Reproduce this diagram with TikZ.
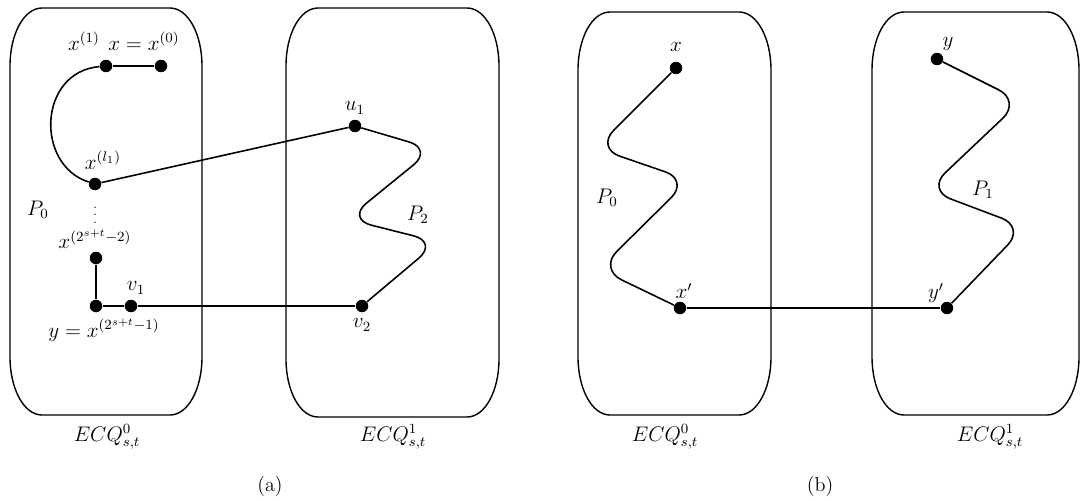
\documentclass[tikz,border=0pt]{standalone}
\usetikzlibrary{positioning}
\tikzset{
  vtx/.style={circle, fill=black, inner sep=0pt, minimum size=0.25cm},
  lbl/.style={inner sep=1pt, font=\fontsize{11.5}{13}\selectfont},
  edge/.style={line width=0.9pt},
  wave/.style={line width=0.9pt, rounded corners=0.5cm},
  cubeline/.style={line width=0.8pt},
}
% rounded cube box: left, right, top, bottom (pixel units)
\newcommand{\cubebox}[4]{%
  \draw[cubeline] (#1,#3+58) .. controls (#1,#3+26) and (#1+14,#3) .. (#1+32,#3)
    -- (#2-32,#3) .. controls (#2-14,#3) and (#2,#3+26) .. (#2,#3+58)
    -- (#2,#4-58) .. controls (#2,#4-26) and (#2-14,#4) .. (#2-32,#4)
    -- (#1+32,#4) .. controls (#1+14,#4) and (#1,#4-26) .. (#1,#4-58) -- cycle;}

\begin{document}
\begin{tikzpicture}[x=0.02cm, y=-0.02cm]
  \useasboundingbox (0,0) rectangle (1081,500);

  % (a)
  \cubebox{10}{202}{8}{415}
  \cubebox{286}{499}{8}{417}

  \node[vtx] (x0) at (161,66) {};
  \node[vtx] (x1) at (106,66) {};
  \node[vtx] (xl) at (95,184) {};
  \node[vtx] (xm) at (96,258) {};
  \node[vtx] (ya) at (96,306) {};
  \node[vtx] (v1) at (131,306) {};
  \node[vtx] (u1) at (355,126) {};
  \node[vtx] (v2) at (362,306) {};

  \node[lbl] (lx1) at (84,41) {$x^{(1)}$};
  \node[lbl] (lx0) at (144,41) {$x=x^{(0)}$};
  \node[lbl] (lxl) at (103,160) {$x^{(l_1)}$};
  \node[lbl] (lpa) at (38,210) {$P_0$};
  \node[lbl, font=\scriptsize] (ldots) at (95,210) {$\vdots$};
  \node[lbl] (lxm) at (95,239) {$x^{(2^{s+t}-2)}$};
  \node[lbl] (lv1) at (136,288) {$v_1$};
  \node[lbl] (ly) at (104,330) {$y=x^{(2^{s+t}-1)}$};
  \node[lbl] (lu1) at (355,108) {$u_1$};
  \node[lbl] (lv2) at (362,325) {$v_2$};
  \node[lbl] (lp2) at (418,215) {$P_2$};

  \draw[edge] (x1) -- (x0);
  \draw[edge] (x1) .. controls (38,72) and (35,165) .. (xl);
  \draw[edge] (xl) -- (u1);
  \draw[wave] (u1) -- (433,149) -- (347,219) -- (438,242) -- (v2);
  \draw[edge] (xm) -- (ya) -- (v1) -- (v2);

  \node[lbl] (ecq0a) at (107,437) {$ECQ^{0}_{s,t}$};
  \node[lbl] (ecq1a) at (393,437) {$ECQ^{1}_{s,t}$};
  \node[lbl] (capa) at (270,486) {(a)};

  % (b)
  \cubebox{578}{771}{12}{415}
  \cubebox{872}{1079}{12}{415}

  \node[vtx] (xb) at (676,68) {};
  \node[vtx] (xp) at (680,308) {};
  \node[vtx] (yb) at (937,59) {};
  \node[vtx] (yp) at (947,308) {};

  \node[lbl] (lxb) at (676,47) {$x$};
  \node[lbl] (lxp) at (684,291) {$x'$};
  \node[lbl] (lyb) at (948,44) {$y$};
  \node[lbl] (lyp) at (936,293) {$y'$};
  \node[lbl] (lpb) at (607,198) {$P_0$};
  \node[lbl] (lp1) at (983,190) {$P_1$};

  \draw[wave] (xb) -- (596,148) -- (689,180) -- (599,269) -- (xp);
  \draw[wave] (yb) -- (1021,101) -- (927,190) -- (1025,227) -- (yp);
  \draw[edge] (xp) -- (yp);

  \node[lbl] (ecq0b) at (665,437) {$ECQ^{0}_{s,t}$};
  \node[lbl] (ecq1b) at (990,437) {$ECQ^{1}_{s,t}$};
  \node[lbl] (capb) at (820,486) {(b)};
\end{tikzpicture}
\end{document}
